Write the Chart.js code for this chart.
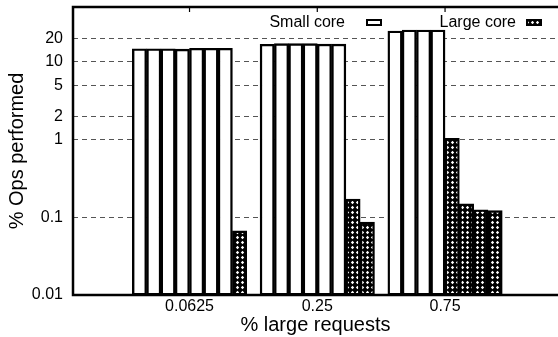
<!DOCTYPE html>
<html>
<head>
<meta charset="utf-8">
<script src="https://cdn.jsdelivr.net/npm/chart.js@4"></script>
<style>
  html, body { margin: 0; padding: 0; background: #fff; }
  #wrap { width: 558px; height: 337px; }
</style>
</head>
<body>
<div id="wrap"><canvas id="opsChart" width="558" height="337"></canvas></div>
<script>
// values
const groupLabels = ['0.0625', '0.25', '0.75'];
const smallCore = [
  [14.8, 14.8, 14.8, 14.6, 15.0, 15.0, 15.0],
  [16.9, 17.2, 17.2, 17.2, 17.0, 17.0],
  [25.0, 25.8, 25.8, 25.8]
];
const largeCore = [
  [0.067],
  [0.172, 0.087],
  [1.04, 0.149, 0.125, 0.122]
];
const yTicks = [0.01, 0.1, 1, 2, 5, 10, 20];
const legendLabels = ['Small core', 'Large core'];

const FONT = "'Liberation Sans', Arial, sans-serif";
const SLOTS = 8;

function makeHatch() {
  const c = document.createElement('canvas');
  c.width = 5; c.height = 5;
  const g = c.getContext('2d');
  g.fillStyle = '#000';
  g.fillRect(0, 0, 5, 5);
  g.fillStyle = '#fff';
  g.beginPath();
  g.moveTo(2.5, 0.8); g.lineTo(4.2, 2.5); g.lineTo(2.5, 4.2); g.lineTo(0.8, 2.5);
  g.closePath();
  g.fill();
  return g.createPattern(c, 'repeat');
}
const hatch = makeHatch();

// one dataset per bar slot; each group fills its slots with small core first, then large core
const datasets = [];
for (let s = 0; s < SLOTS; s++) {
  const kinds = [];
  const data = groupLabels.map((lbl, i) => {
    const n = smallCore[i].length;
    kinds.push(s < n ? 'small' : 'large');
    const v = s < n ? smallCore[i][s] : largeCore[i][s - n];
    return { x: i, y: v === undefined ? null : v };
  });
  datasets.push({
    label: 'slot' + s,
    kinds: kinds,
    data: data,
    backgroundColor: ctx => (ctx.dataset.kinds[ctx.dataIndex] === 'large' ? hatch : '#fff'),
    borderColor: '#000',
    borderWidth: 2.4,
    borderSkipped: false,
    barThickness: 14.3
  });
}

const framePlugin = {
  id: 'frame',
  afterDatasetsDraw(chart) {
    const { ctx, chartArea: a, scales } = chart;
    ctx.save();
    ctx.strokeStyle = '#000';
    ctx.lineWidth = 2.5;
    ctx.beginPath();
    ctx.moveTo(a.right + 2, a.top);
    ctx.lineTo(a.left, a.top);
    ctx.lineTo(a.left, a.bottom);
    ctx.lineTo(a.right + 2, a.bottom);
    ctx.stroke();
    // top ticks at group centers
    ctx.lineWidth = 1.2;
    groupLabels.forEach((l, i) => {
      const x = scales.x.getPixelForValue(i);
      ctx.beginPath();
      ctx.moveTo(x, a.top);
      ctx.lineTo(x, a.top + 5);
      ctx.stroke();
    });
    // legend: text then key box
    ctx.font = '16px ' + FONT;
    ctx.fillStyle = '#000';
    ctx.textAlign = 'right';
    ctx.textBaseline = 'middle';
    const keys = [
      { text: legendLabels[0], tx: 345, bx: 366, fill: '#fff' },
      { text: legendLabels[1], tx: 516, bx: 526, fill: hatch }
    ];
    keys.forEach(k => {
      ctx.fillText(k.text, k.tx, 23);
      ctx.fillStyle = k.fill;
      ctx.fillRect(k.bx, 19, 16, 7);
      ctx.lineWidth = 2;
      ctx.strokeStyle = '#000';
      ctx.strokeRect(k.bx + 1, 20, 14, 5);
      ctx.fillStyle = '#000';
    });
    ctx.restore();
  }
};

new Chart(document.getElementById('opsChart'), {
  type: 'bar',
  data: { datasets: datasets },
  plugins: [framePlugin],
  options: {
    responsive: false,
    animation: false,
    layout: { padding: { top: 7, right: 0, left: 0, bottom: 0 } },
    plugins: {
      legend: { display: false },
      tooltip: { enabled: false }
    },
    scales: {
      x: {
        type: 'linear',
        offset: false,
        min: -0.912,
        max: 2.884,
        grid: { display: false, drawTicks: false, offset: false },
        border: { display: false },
        afterBuildTicks: scale => { scale.ticks = groupLabels.map((l, i) => ({ value: i })); },
        afterFit: scale => { scale.height = 42; scale.paddingLeft = 0; scale.paddingRight = 0; },
        ticks: {
          color: '#000',
          font: { family: FONT, size: 16 },
          padding: 2,
          maxRotation: 0,
          callback: v => groupLabels[v]
        },
        title: {
          display: true,
          text: '% large requests',
          color: '#000',
          font: { family: FONT, size: 20 },
          padding: { top: 0, bottom: 0 }
        }
      },
      y: {
        type: 'logarithmic',
        min: 0.01,
        max: 51,
        afterBuildTicks: scale => { scale.ticks = yTicks.map(v => ({ value: v })); },
        afterFit: scale => { scale.width = 73; scale.paddingTop = 0; scale.paddingBottom = 0; },
        grid: {
          drawTicks: false,
          color: ctx => (ctx.tick && ctx.tick.value === 0.01 ? 'rgba(0,0,0,0)' : '#555'),
          lineWidth: 1
        },
        border: { display: false, dash: [5, 4] },
        ticks: {
          color: '#000',
          font: { family: FONT, size: 16 },
          padding: 10,
          callback: v => String(v)
        },
        title: {
          display: true,
          text: '% Ops performed',
          color: '#000',
          font: { family: FONT, size: 20 },
          padding: { top: 5, bottom: 0 }
        }
      }
    }
  }
});
</script>
</body>
</html>
